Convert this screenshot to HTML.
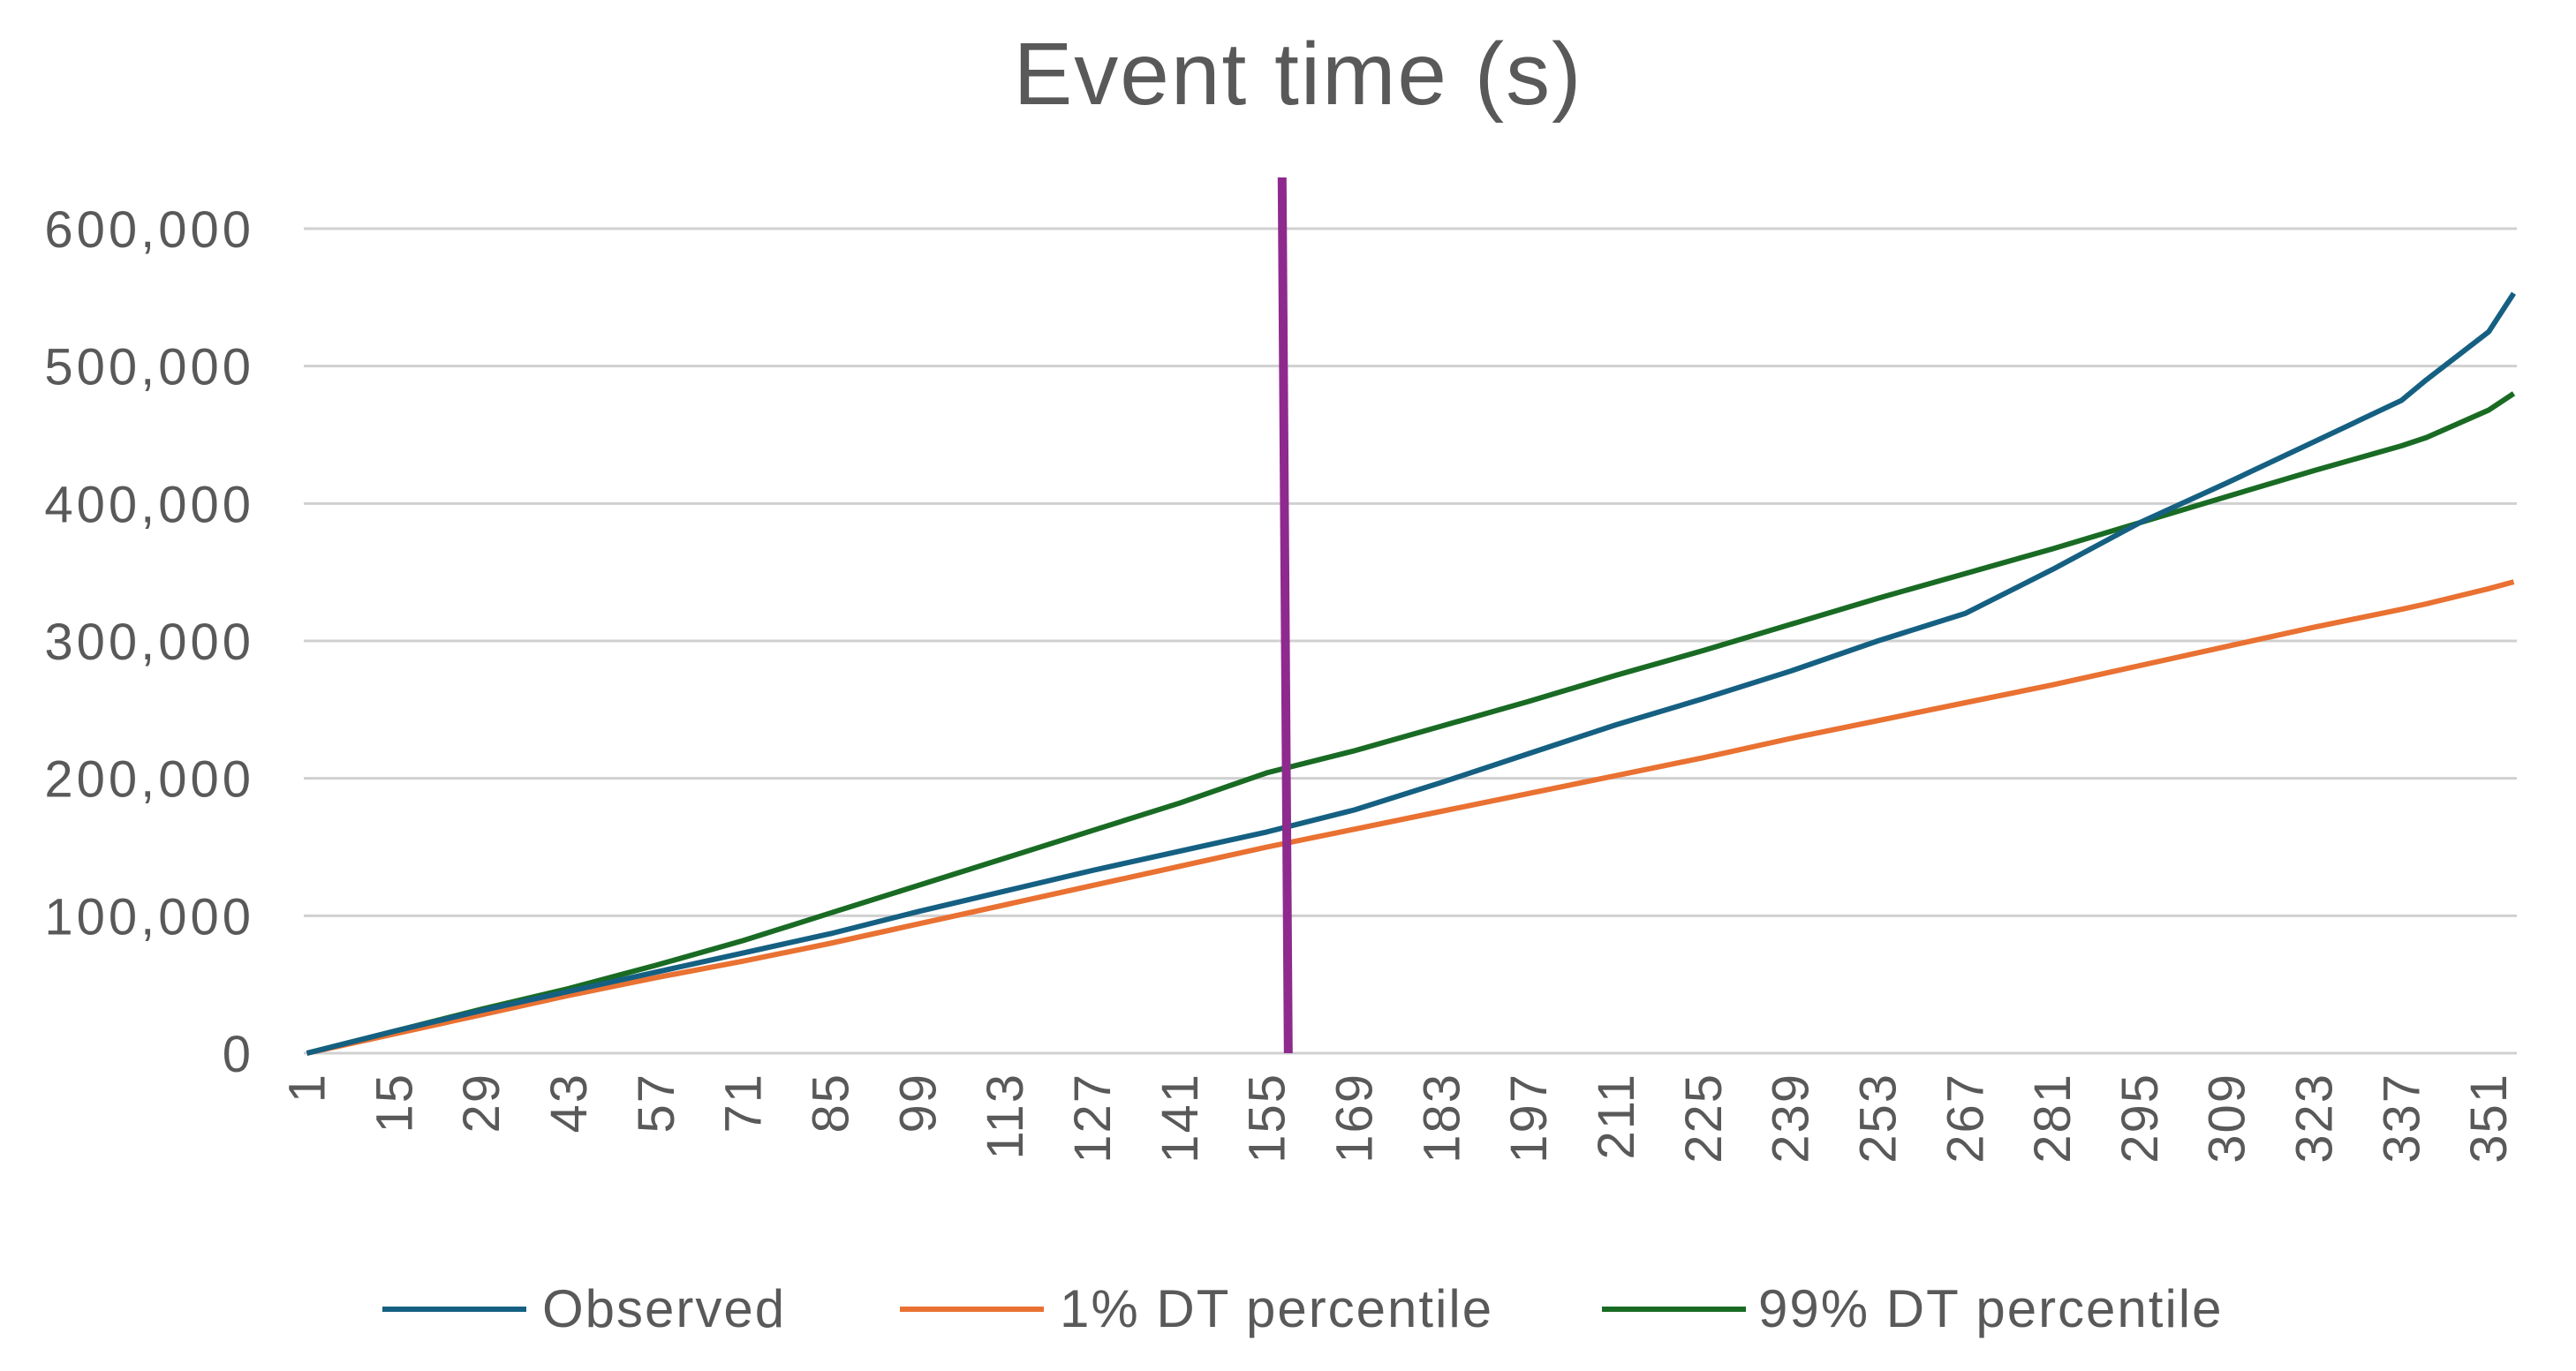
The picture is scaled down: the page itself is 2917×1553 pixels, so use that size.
<!DOCTYPE html>
<html><head><meta charset="utf-8"><style>
html,body{margin:0;padding:0;background:#fff;}
svg{display:block;font-family:"Liberation Sans",sans-serif;}
</style></head><body>
<svg id="chart" width="2917" height="1553" viewBox="0 0 2917 1553">
<rect width="2917" height="1553" fill="#fff"/>
<text x="1470" y="118" text-anchor="middle" font-size="100" letter-spacing="2" fill="#595959">Event time (s)</text>
<g id="grid"></g><g id="ylabels"></g><g id="xlabels"></g><g id="series"></g><g id="marker"></g>
<g id="legend">
<line x1="433" y1="1483" x2="596" y2="1483" stroke="#156082" stroke-width="6"/>
<text x="614" y="1503" font-size="60" letter-spacing="2" fill="#595959">Observed</text>
<line x1="1019" y1="1483" x2="1182" y2="1483" stroke="#E97132" stroke-width="6"/>
<text x="1200" y="1503" font-size="60" letter-spacing="2" fill="#595959">1% DT percentile</text>
<line x1="1814" y1="1483" x2="1977" y2="1483" stroke="#196B24" stroke-width="6"/>
<text x="1991" y="1503" font-size="60" letter-spacing="2" fill="#595959">99% DT percentile</text>
</g>
</svg>
<script>
const categories = [1,15,29,43,57,71,85,99,113,127,141,155,169,183,197,211,225,239,253,267,281,295,309,323,337,341,351,355];
const observed = [0,16000,31000,45000,59000,73000,87000,103000,118000,133000,147000,161000,177000,197000,218000,239000,258000,278000,300000,320000,352000,386000,415000,445000,475000,490000,525000,553000];
const pct1 = [0,14000,28000,42000,55000,67000,80000,94000,108000,122000,136000,150000,163000,176000,189000,202000,215000,229000,242000,255000,268000,282000,296000,310000,323000,327000,338000,343000];
const pct99 = [0,16000,32000,47000,64000,82000,102000,122000,142000,162000,182000,204000,220000,238000,256000,275000,293000,312000,331000,349000,367000,386000,405000,424000,442000,448000,468000,480000];
const tickLabels = [1,15,29,43,57,71,85,99,113,127,141,155,169,183,197,211,225,239,253,267,281,295,309,323,337,351];
const yTicks = [0,100000,200000,300000,400000,500000,600000];
const markerCategory = 158;
const nCats = 355;

const NS='http://www.w3.org/2000/svg';
const L=344,R=2850,T=259,B=1193,yMax=600000;
const step=(R-L)/nCats;
const x=c=>L+(c-0.5)*step;
const y=v=>B-(v/yMax)*(B-T);
function mk(tag,attrs,parent){const e=document.createElementNS(NS,tag);for(const k in attrs)e.setAttribute(k,attrs[k]);document.getElementById(parent).appendChild(e);return e;}

yTicks.forEach(v=>{
  const g=mk('line',{x1:L,x2:R,y1:y(v),y2:y(v),stroke:'#d0d0d0','stroke-width':3},'grid');
  
  
  const t=mk('text',{x:288,y:y(v)+21,'text-anchor':'end','font-size':58,'letter-spacing':4,fill:'#595959'},'ylabels');
  t.textContent=v.toLocaleString('en-US');
  
  
});
tickLabels.forEach(c=>{
  const t=mk('text',{x:0,y:0,'text-anchor':'end','font-size':58,'letter-spacing':2,fill:'#595959',transform:`translate(${x(c)+20},${B+22}) rotate(-90)`},'xlabels');
  t.textContent=c;
  
  
});
function line(vals,color,name){
  const p=categories.map((c,i)=>`${x(c).toFixed(1)},${y(vals[i]).toFixed(1)}`).join(' ');
  const e=mk('polyline',{points:p,fill:'none',stroke:color,'stroke-width':6,'stroke-linejoin':'round'},'series');
  
  
}
line(pct1,'#E97132','series-1pct-dt-percentile');
line(pct99,'#196B24','series-99pct-dt-percentile');
line(observed,'#156082','series-observed');
const m=mk('line',{x1:x(markerCategory)-4,y1:201,x2:x(markerCategory)+3,y2:B,stroke:'#8E2A8E','stroke-width':10},'marker');


</script>
</body></html>
